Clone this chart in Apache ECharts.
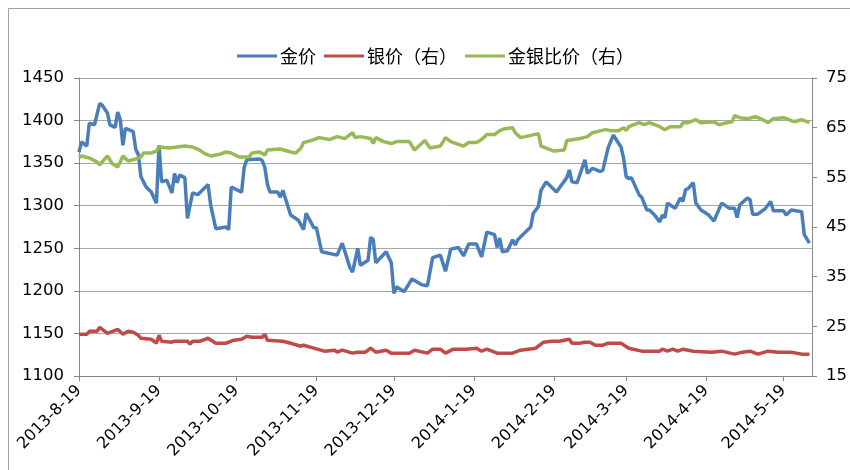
<!DOCTYPE html>
<html><head><meta charset="utf-8">
<script src="https://cdn.jsdelivr.net/npm/echarts@6/dist/echarts.min.js"></script>
<style>html,body{margin:0;padding:0;background:#fff}#c{width:850px;height:470px}</style>
</head><body><div id="c"></div>
<script>
const axisStart = [2013, 8, 19];
const axisEnd = [2014, 5, 30];
const seriesNames = ['金价', '银价（右）', '金银比价（右）'];
const leftTicks = [1100, 1450, 50];
const rightTicks = [15, 75, 10];

const gold = [
['2013-8-19',1363],['2013-8-20',1375],['2013-8-22',1370],['2013-8-23',1397],['2013-8-25',1395],
['2013-8-27',1420],['2013-8-28',1418],['2013-8-30',1409],['2013-8-31',1395],['2013-9-2',1392],
['2013-9-3',1410],['2013-9-4',1401],['2013-9-5',1371],['2013-9-6',1391],['2013-9-9',1387],
['2013-9-10',1366],['2013-9-11',1360],['2013-9-12',1334],['2013-9-14',1322],['2013-9-16',1316],
['2013-9-18',1303],['2013-9-19',1371],['2013-9-20',1328],['2013-9-22',1330],['2013-9-24',1315],
['2013-9-25',1338],['2013-9-26',1327],['2013-9-27',1336],['2013-9-29',1333],['2013-9-30',1285],
['2013-10-2',1315],['2013-10-4',1313],['2013-10-8',1325],['2013-10-9',1301],['2013-10-11',1273],
['2013-10-15',1275],['2013-10-16',1272],['2013-10-17',1322],['2013-10-21',1316],['2013-10-22',1345],
['2013-10-23',1354],['2013-10-28',1355],['2013-10-29',1353],['2013-10-30',1345],['2013-10-31',1325],
['2013-11-1',1316],['2013-11-4',1316],['2013-11-5',1310],['2013-11-6',1318],['2013-11-9',1289],
['2013-11-12',1283],['2013-11-14',1272],['2013-11-15',1291],['2013-11-18',1274],['2013-11-19',1274],
['2013-11-21',1246],['2013-11-27',1242],['2013-11-29',1256],['2013-12-2',1227],['2013-12-3',1222],
['2013-12-5',1250],['2013-12-6',1230],['2013-12-9',1236],['2013-12-10',1263],['2013-12-11',1260],
['2013-12-12',1233],['2013-12-16',1246],['2013-12-18',1233],['2013-12-19',1197],['2013-12-20',1205],
['2013-12-23',1199],['2013-12-26',1214],['2013-12-30',1207],['2014-1-1',1206],['2014-1-3',1239],
['2014-1-6',1242],['2014-1-8',1223],['2014-1-10',1249],['2014-1-13',1251],['2014-1-15',1241],
['2014-1-17',1255],['2014-1-20',1255],['2014-1-22',1240],['2014-1-24',1269],['2014-1-27',1266],
['2014-1-28',1251],['2014-1-29',1262],['2014-1-30',1246],['2014-2-1',1247],['2014-2-3',1260],
['2014-2-4',1254],['2014-2-5',1260],['2014-2-8',1269],['2014-2-10',1275],['2014-2-11',1291],
['2014-2-13',1299],['2014-2-14',1318],['2014-2-16',1328],['2014-2-20',1316],['2014-2-24',1333],
['2014-2-25',1342],['2014-2-26',1328],['2014-2-28',1327],['2014-3-3',1354],['2014-3-4',1338],
['2014-3-6',1344],['2014-3-9',1340],['2014-3-10',1342],['2014-3-12',1368],['2014-3-14',1383],
['2014-3-17',1369],['2014-3-18',1356],['2014-3-19',1334],['2014-3-20',1332],['2014-3-21',1333],
['2014-3-24',1313],['2014-3-25',1310],['2014-3-27',1295],['2014-3-28',1295],['2014-3-30',1289],
['2014-4-1',1281],['2014-4-2',1289],['2014-4-3',1286],['2014-4-4',1303],['2014-4-7',1297],
['2014-4-9',1309],['2014-4-10',1305],['2014-4-11',1319],['2014-4-12',1320],['2014-4-14',1327],
['2014-4-15',1303],['2014-4-17',1295],['2014-4-20',1289],['2014-4-22',1282],['2014-4-25',1303],
['2014-4-28',1297],['2014-4-30',1297],['2014-5-1',1286],['2014-5-2',1301],['2014-5-5',1309],
['2014-5-6',1307],['2014-5-7',1290],['2014-5-9',1290],['2014-5-12',1297],['2014-5-14',1305],
['2014-5-15',1294],['2014-5-19',1294],['2014-5-20',1289],['2014-5-22',1295],['2014-5-26',1293],
['2014-5-27',1266],['2014-5-29',1256]
];

const silver = [
['2013-8-19',23.4],['2013-8-22',23.4],['2013-8-23',24.0],['2013-8-26',24.0],['2013-8-27',24.8],
['2013-8-30',23.6],['2013-9-3',24.4],['2013-9-5',23.4],['2013-9-7',24.0],['2013-9-9',23.8],
['2013-9-11',23.2],['2013-9-12',22.6],['2013-9-16',22.4],['2013-9-18',21.6],['2013-9-19',23.2],
['2013-9-20',22.0],['2013-9-24',21.8],['2013-9-25',22.0],['2013-9-30',22.0],['2013-10-1',21.4],
['2013-10-2',22.0],['2013-10-5',22.0],['2013-10-8',22.6],['2013-10-11',21.6],['2013-10-15',21.6],
['2013-10-18',22.2],['2013-10-21',22.4],['2013-10-23',23.0],['2013-10-25',22.8],['2013-10-29',22.8],
['2013-10-30',23.4],['2013-10-31',22.2],['2013-11-6',22.0],['2013-11-9',21.6],['2013-11-13',21.0],
['2013-11-14',21.2],['2013-11-18',20.6],['2013-11-22',20.0],['2013-11-26',20.2],['2013-11-27',19.8],
['2013-11-29',20.2],['2013-12-3',19.6],['2013-12-5',19.8],['2013-12-8',19.8],['2013-12-10',20.6],
['2013-12-12',19.8],['2013-12-16',20.2],['2013-12-18',19.6],['2013-12-25',19.6],['2013-12-27',20.2],
['2014-1-1',19.6],['2014-1-3',20.4],['2014-1-6',20.4],['2014-1-8',19.6],['2014-1-11',20.4],
['2014-1-16',20.4],['2014-1-20',20.6],['2014-1-22',20.0],['2014-1-24',20.4],['2014-1-28',19.6],
['2014-2-3',19.6],['2014-2-6',20.2],['2014-2-12',20.6],['2014-2-15',21.8],['2014-2-18',22.0],
['2014-2-21',22.0],['2014-2-25',22.4],['2014-2-26',21.6],['2014-3-1',21.6],['2014-3-3',21.8],
['2014-3-5',21.8],['2014-3-7',21.2],['2014-3-10',21.2],['2014-3-12',21.6],['2014-3-17',21.6],
['2014-3-20',20.6],['2014-3-25',20.0],['2014-4-1',20.0],['2014-4-2',20.4],['2014-4-4',20.0],
['2014-4-6',20.4],['2014-4-8',20.0],['2014-4-10',20.4],['2014-4-14',20.0],['2014-4-21',19.8],
['2014-4-25',20.0],['2014-4-30',19.4],['2014-5-3',19.8],['2014-5-6',20.0],['2014-5-9',19.4],
['2014-5-13',20.0],['2014-5-17',19.8],['2014-5-22',19.8],['2014-5-26',19.4],['2014-5-29',19.4]
];

const ratio = [
['2013-8-19',58.9],['2013-8-20',59.3],['2013-8-23',58.9],['2013-8-26',58.1],['2013-8-27',57.5],
['2013-8-30',59.3],['2013-9-1',57.7],['2013-9-3',57.1],['2013-9-4',58.1],['2013-9-5',59.3],
['2013-9-7',58.3],['2013-9-10',58.7],['2013-9-12',59.1],['2013-9-13',59.9],['2013-9-16',59.9],
['2013-9-18',60.3],['2013-9-19',61.1],['2013-9-23',60.9],['2013-9-29',61.3],['2013-10-2',61.1],
['2013-10-4',60.7],['2013-10-7',59.7],['2013-10-9',59.3],['2013-10-13',59.7],['2013-10-15',60.1],
['2013-10-17',59.9],['2013-10-20',59.1],['2013-10-24',59.1],['2013-10-25',59.9],['2013-10-28',60.1],
['2013-10-30',59.5],['2013-10-31',60.5],['2013-11-5',60.7],['2013-11-9',60.1],['2013-11-11',59.9],
['2013-11-13',60.9],['2013-11-14',62.0],['2013-11-18',62.6],['2013-11-20',63.0],['2013-11-24',62.6],
['2013-11-27',63.2],['2013-11-30',62.8],['2013-12-3',64.0],['2013-12-4',63.0],['2013-12-6',63.2],
['2013-12-10',62.8],['2013-12-11',61.8],['2013-12-12',63.0],['2013-12-15',62.2],['2013-12-18',61.8],
['2013-12-20',62.2],['2013-12-25',62.2],['2013-12-27',60.5],['2013-12-31',62.4],['2014-1-2',60.9],
['2014-1-6',61.3],['2014-1-8',63.0],['2014-1-10',62.2],['2014-1-15',61.3],['2014-1-17',62.0],
['2014-1-20',62.0],['2014-1-22',62.6],['2014-1-24',63.6],['2014-1-27',63.6],['2014-1-29',64.4],
['2014-1-31',64.8],['2014-2-3',65.0],['2014-2-4',64.0],['2014-2-6',63.0],['2014-2-8',63.2],
['2014-2-13',63.8],['2014-2-14',61.3],['2014-2-17',60.7],['2014-2-19',60.3],['2014-2-23',60.5],
['2014-2-24',62.4],['2014-3-1',62.8],['2014-3-4',63.2],['2014-3-6',64.0],['2014-3-11',64.6],
['2014-3-13',64.4],['2014-3-16',64.4],['2014-3-18',65.0],['2014-3-19',64.4],['2014-3-20',65.2],
['2014-3-24',66.0],['2014-3-26',65.6],['2014-3-28',66.0],['2014-4-1',65.2],['2014-4-3',64.6],
['2014-4-5',65.2],['2014-4-9',65.2],['2014-4-10',66.0],['2014-4-12',66.0],['2014-4-15',66.6],
['2014-4-17',66.0],['2014-4-22',66.2],['2014-4-24',65.6],['2014-4-27',66.0],['2014-4-29',66.2],
['2014-4-30',67.4],['2014-5-2',67.0],['2014-5-5',66.8],['2014-5-8',67.2],['2014-5-11',66.6],
['2014-5-13',66.0],['2014-5-15',66.8],['2014-5-19',67.0],['2014-5-23',66.2],['2014-5-26',66.6],
['2014-5-29',66.0]
];

// calendar-day category axis (like Excel date axis)
const categories = [];
{
  let t = Date.UTC(axisStart[0], axisStart[1]-1, axisStart[2]);
  const tEnd = Date.UTC(axisEnd[0], axisEnd[1]-1, axisEnd[2]);
  while (t <= tEnd) {
    const d = new Date(t);
    categories.push(d.getUTCFullYear() + '-' + (d.getUTCMonth()+1) + '-' + d.getUTCDate());
    t += 86400000;
  }
}
const idx = {};
categories.forEach((c, i) => idx[c] = i);
const toXY = arr => arr.map(p => [idx[p[0]], p[1]]);
const isTick = (i, v) => /-19$/.test(v);

const colors = ['#4a7ebb', '#be4b48', '#98b954'];
const font = 'DejaVu Sans';
const chart = echarts.init(document.getElementById('c'), null, {renderer: 'canvas'});
chart.setOption({
  animation: false,
  backgroundColor: '#fff',
  color: colors,
  graphic: [{type: 'rect', shape: {x: 8.5, y: 8.5, width: 900, height: 470}, style: {fill: 'none', stroke: '#a0a0a0', lineWidth: 1}, silent: true}],
  legend: {
    top: 42, left: 232, itemWidth: 40, itemHeight: 3, itemGap: 8, icon: 'rect',
    textStyle: {fontFamily: 'Noto Sans CJK SC', fontSize: 18, color: '#000', padding: [0,0,0,-2]},
    data: seriesNames
  },
  grid: {left: 79, right: 36, top: 78, bottom: 94, containLabel: false},
  xAxis: {
    type: 'category', data: categories, boundaryGap: false,
    axisLine: {lineStyle: {color: '#868686', width: 1}},
    axisTick: {show: true, interval: isTick, length: 5, lineStyle: {color: '#868686'}},
    axisLabel: {interval: isTick, rotate: 45, fontFamily: font, fontSize: 16, color: '#000', margin: 12},
    splitLine: {show: false}
  },
  yAxis: [
    {type: 'value', min: leftTicks[0], max: leftTicks[1], interval: leftTicks[2], position: 'left',
     axisLine: {show: true, lineStyle: {color: '#868686'}},
     axisTick: {show: true, length: 5, lineStyle: {color: '#868686'}},
     axisLabel: {fontFamily: font, fontSize: 16.5, color: '#000', margin: 15, formatter: v => String(v)},
     splitLine: {show: true, lineStyle: {color: '#a6a6a6', width: 1}}},
    {type: 'value', min: rightTicks[0], max: rightTicks[1], interval: rightTicks[2], position: 'right',
     axisLine: {show: true, lineStyle: {color: '#868686'}},
     axisTick: {show: true, length: 5, lineStyle: {color: '#868686'}},
     axisLabel: {fontFamily: font, fontSize: 16.5, color: '#000', margin: 14, formatter: v => String(v)},
     splitLine: {show: false}}
  ],
  series: [
    {name: seriesNames[0], type: 'line', yAxisIndex: 0, data: toXY(gold), showSymbol: false, lineStyle: {width: 3.5}},
    {name: seriesNames[1], type: 'line', yAxisIndex: 1, data: toXY(silver), showSymbol: false, lineStyle: {width: 3.5}},
    {name: seriesNames[2], type: 'line', yAxisIndex: 1, data: toXY(ratio), showSymbol: false, lineStyle: {width: 3.5}}
  ]
});
</script></body></html>
